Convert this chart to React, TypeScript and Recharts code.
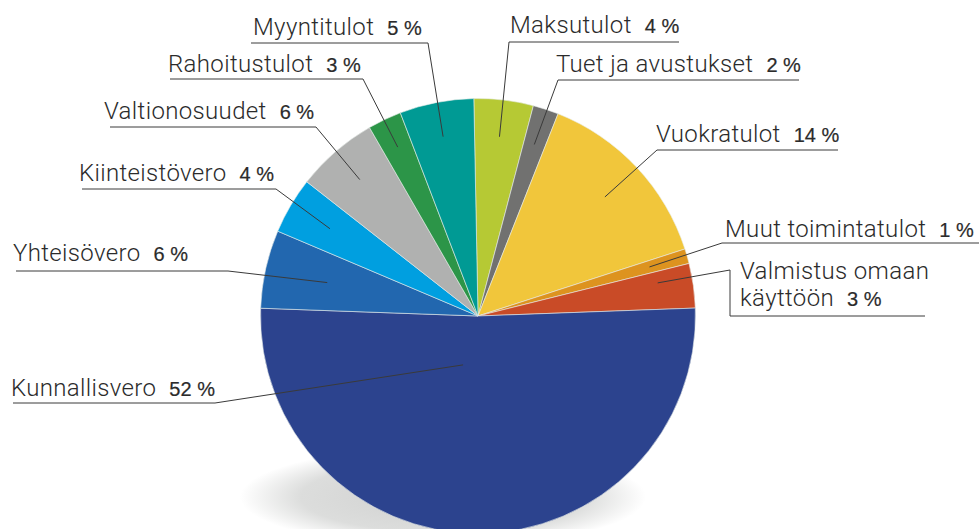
import React from 'react';
import { PieChart, Pie, Cell } from 'recharts';

const names = [
  'Maksutulot',
  'Tuet ja avustukset',
  'Vuokratulot',
  'Muut toimintatulot',
  'Valmistus omaan käyttöön',
  'Kunnallisvero',
  'Yhteisövero',
  'Kiinteistövero',
  'Valtionosuudet',
  'Rahoitustulot',
  'Myyntitulot',
];
const shares = [4.4, 1.9, 14.0, 1.1, 3.3, 51.1, 5.8, 4.2, 6.1, 2.5, 5.5];
const labelPercents = [4, 2, 14, 1, 3, 52, 6, 4, 6, 3, 5];
const colors = [
  '#b6c934',
  '#717170',
  '#f1c63b',
  '#dd931f',
  '#c94b27',
  '#2c438e',
  '#2267af',
  '#009fe0',
  '#b0b1b0',
  '#2c9548',
  '#009a94',
];

const data = names.map((name, i) => ({ name, value: shares[i] }));

// label layout: anchor radius fraction, angle offset, text start, underline
type Layout = {
  r: number;
  da: number;
  tx: number;
  ty: number;
  ux1: number;
  ux2: number;
  uy: number;
  side: 'left' | 'right';
  wrapWords?: number;
  elbowX?: number;
  elbowY?: number;
};
const layouts: Layout[] = [
  { r: 0.83, da: 0, tx: 510, ty: 33, ux1: 509, ux2: 679, uy: 42, side: 'right' },
  { r: 0.83, da: 0, tx: 556, ty: 72, ux1: 558, ux2: 799, uy: 80, side: 'right' },
  { r: 0.8, da: 0, tx: 656, ty: 142, ux1: 657, ux2: 838, uy: 150, side: 'right' },
  { r: 0.82, da: 0, tx: 725, ty: 237, ux1: 722, ux2: 979, uy: 243, side: 'right' },
  { r: 0.84, da: 2.4, tx: 740, ty: 279, ux1: 730, ux2: 925, uy: 316, side: 'right', wrapWords: 2, elbowX: 730, elbowY: 270 },
  { r: 0.235, da: -17, tx: 11, ty: 396, ux1: 13, ux2: 215, uy: 403, side: 'left' },
  { r: 0.71, da: 0, tx: 13, ty: 261, ux1: 16, ux2: 228, uy: 271, side: 'left' },
  { r: 0.79, da: 0, tx: 79, ty: 181, ux1: 82, ux2: 276, uy: 189, side: 'left' },
  { r: 0.83, da: 0, tx: 104, ty: 119, ux1: 110, ux2: 316, uy: 127, side: 'left' },
  { r: 0.86, da: 0, tx: 168, ty: 72, ux1: 170, ux2: 363, uy: 79, side: 'left' },
  { r: 0.84, da: 0, tx: 253, ty: 35, ux1: 251, ux2: 428, uy: 43, side: 'left' },
];

const RAD = Math.PI / 180;
const FONT = "Roboto, 'Liberation Sans', Arial, sans-serif";
const PCT_FONT = "'Liberation Sans', Arial, sans-serif";
const TEXT_COLOR = '#2b2b2b';
const LINE_COLOR = '#3a3a3a';

const renderLabel = (props: any) => {
  const { cx, cy, midAngle, outerRadius } = props;
  const nm = props.name ?? props.payload?.name;
  const idx = typeof props.index === 'number' ? props.index : names.indexOf(nm);
  const L = layouts[idx];
  if (!L) return null;
  const ang = (midAngle + L.da) * RAD;
  const ax = cx + outerRadius * L.r * Math.cos(-ang);
  const ay = cy + outerRadius * L.r * Math.sin(-ang);
  const pct = `${labelPercents[idx]} %`;
  const words = names[idx].split(' ');
  let path: string;
  if (L.elbowX !== undefined && L.elbowY !== undefined) {
    path = `M${ax},${ay} L${L.elbowX},${L.elbowY} L${L.elbowX},${L.uy} L${L.ux2},${L.uy}`;
  } else if (L.side === 'left') {
    path = `M${ax},${ay} L${L.ux2},${L.uy} L${L.ux1},${L.uy}`;
  } else {
    path = `M${ax},${ay} L${L.ux1},${L.uy} L${L.ux2},${L.uy}`;
  }
  const nameStyle = { fontFamily: FONT, fontSize: 24, fontWeight: 300, letterSpacing: 0.35 } as any;
  const pctStyle = { fontFamily: PCT_FONT, fontSize: 20, fontWeight: 400, stroke: TEXT_COLOR, strokeWidth: 0.2 } as any;
  return (
    <g key={`lbl-${idx}`}>
      <path d={path} fill="none" stroke={LINE_COLOR} strokeWidth={1} />
      {L.wrapWords ? (
        <text x={L.tx} y={L.ty} fill={TEXT_COLOR}>
          <tspan x={L.tx} y={L.ty} style={nameStyle}>
            {words.slice(0, L.wrapWords).join(' ')}
          </tspan>
          <tspan x={L.tx} y={L.ty + 27} style={nameStyle}>
            {words.slice(L.wrapWords).join(' ')}
          </tspan>
          <tspan dx={13} style={pctStyle}>
            {pct}
          </tspan>
        </text>
      ) : (
        <text x={L.tx} y={L.ty} fill={TEXT_COLOR}>
          <tspan style={nameStyle}>{names[idx]}</tspan>
          <tspan dx={13} style={pctStyle}>
            {pct}
          </tspan>
        </text>
      )}
    </g>
  );
};

export default function App() {
  return (
    <div style={{ position: 'absolute', left: 0, top: 0, width: 979, height: 529, background: '#ffffff', overflow: 'hidden' }}>
      <svg width={979} height={529} style={{ position: 'absolute', left: 0, top: 0 }}>
        <defs>
          <radialGradient id="shadowGrad" cx="50%" cy="50%" r="50%">
            <stop offset="0%" stopColor="#cfd0cf" />
            <stop offset="70%" stopColor="#dcdddc" />
            <stop offset="100%" stopColor="#ffffff" />
          </radialGradient>
        </defs>
        <ellipse cx={443} cy={497} rx={203} ry={50} fill="url(#shadowGrad)" />
      </svg>
      <div style={{ position: 'absolute', left: 0, top: 0 }}>
        <PieChart width={979} height={529} margin={{ top: 0, right: 0, bottom: 0, left: 0 }}>
          <Pie
            data={data}
            dataKey="value"
            nameKey="name"
            cx={478}
            cy={316}
            outerRadius={217.5}
            startAngle={91.1}
            endAngle={-268.9}
            stroke="#e8ecea"
            strokeWidth={0.6}
            label={renderLabel}
            labelLine={false}
            isAnimationActive={false}
          >
            {data.map((d, i) => (
              <Cell key={d.name} fill={colors[i]} />
            ))}
          </Pie>
        </PieChart>
      </div>
    </div>
  );
}
